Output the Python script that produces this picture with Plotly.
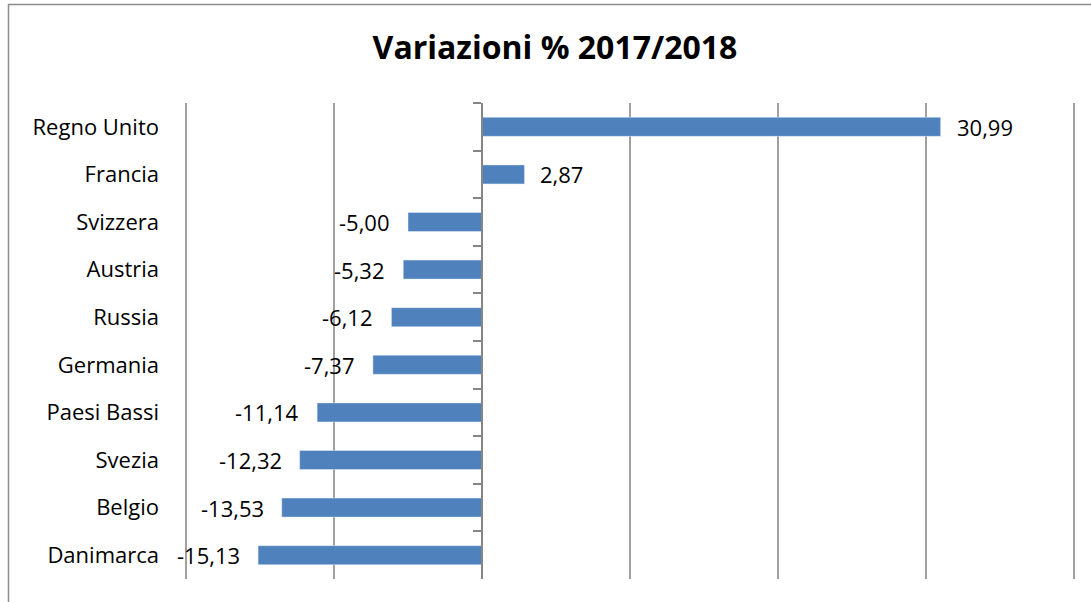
import plotly.graph_objects as go

# Data (top to bottom as shown)
countries = ["Regno Unito", "Francia", "Svizzera", "Austria", "Russia",
             "Germania", "Paesi Bassi", "Svezia", "Belgio", "Danimarca"]
variations = [30.99, 2.87, -5.00, -5.32, -6.12, -7.37, -11.14, -12.32, -13.53, -15.13]

BAR_COLOR = "#4F81BD"
GRID_COLOR = "#a0a0a0"
FONT = "'Open Sans', Lato, sans-serif"

W, H = 1091, 602
X_MIN, X_MAX = -20, 40
PAD_PX = 2  # widen the range a little so the edge gridlines are drawn
L, R, T, B = 186 - PAD_PX, 17 - PAD_PX, 103, 23
plot_w = W - L - R
plot_h = H - T - B
pad = PAD_PX * (X_MAX - X_MIN) / (plot_w - 2 * PAD_PX)

fig = go.Figure()

# visible bars with category labels on the left
fig.add_trace(go.Bar(
    x=variations, y=countries, orientation="h",
    marker=dict(color=BAR_COLOR, line=dict(width=0)),
    hoverinfo="x+y", showlegend=False,
))

# invisible copy on a second y axis placed at zero (axis line + ticks)
fig.add_trace(go.Bar(
    x=variations, y=countries, orientation="h", yaxis="y2",
    marker=dict(color="rgba(0,0,0,0)"), hoverinfo="skip", showlegend=False,
))

# value labels in Italian format
for c, v in zip(countries, variations):
    fig.add_annotation(
        x=v, y=c, text=f"{v:.2f}".replace(".", ","), showarrow=False,
        xanchor="left" if v >= 0 else "right",
        xshift=14 if v >= 0 else -16,
        font=dict(family=FONT, size=22, color="#000000"),
    )

# chart frame (extends past the right/bottom of the picture)
fig.add_shape(
    type="rect", xref="paper", yref="paper",
    x0=(8.5 - L) / plot_w, x1=1.1,
    y0=-0.2, y1=1 + (T - 4.5) / plot_h,
    line=dict(color="#8c8c8c", width=1.5), fillcolor="rgba(0,0,0,0)", layer="below",
)

zero_pos = (X_MIN - 0 - pad) / (X_MIN - X_MAX - 2 * pad)

fig.update_layout(
    width=W, height=H,
    margin=dict(l=L, r=R, t=T, b=B, autoexpand=False),
    paper_bgcolor="white", plot_bgcolor="white",
    bargap=0.6,
    title=dict(
        text="<b>Variazioni % 2017/2018</b>",
        x=555 / W, xanchor="center", y=1 - 48 / H, yanchor="middle",
        font=dict(family=FONT, size=32, color="#000000"),
    ),
    xaxis=dict(
        range=[X_MIN - pad, X_MAX + pad], dtick=10, tick0=0,
        showticklabels=False, showgrid=True, gridcolor=GRID_COLOR, gridwidth=1.5,
        zeroline=False, showline=False, ticks="",
    ),
    yaxis=dict(
        autorange="reversed", showgrid=False, showline=False, ticks="",
        ticklabelstandoff=24, automargin=False,
        tickfont=dict(family=FONT, size=22, color="#000000"),
    ),
    yaxis2=dict(
        overlaying="y", anchor="free", position=zero_pos, side="left",
        autorange="reversed", showgrid=False, showticklabels=False, automargin=False,
        showline=True, linecolor="#868686", linewidth=1.5,
        ticks="outside", tickson="boundaries", ticklen=8, tickcolor="#868686", tickwidth=1.5,
    ),
)

# remove the page's default body margin so the figure sits at the top-left corner
fig.write_html("out.html", config={"displayModeBar": False},
               post_script="document.body.style.margin='0';")
